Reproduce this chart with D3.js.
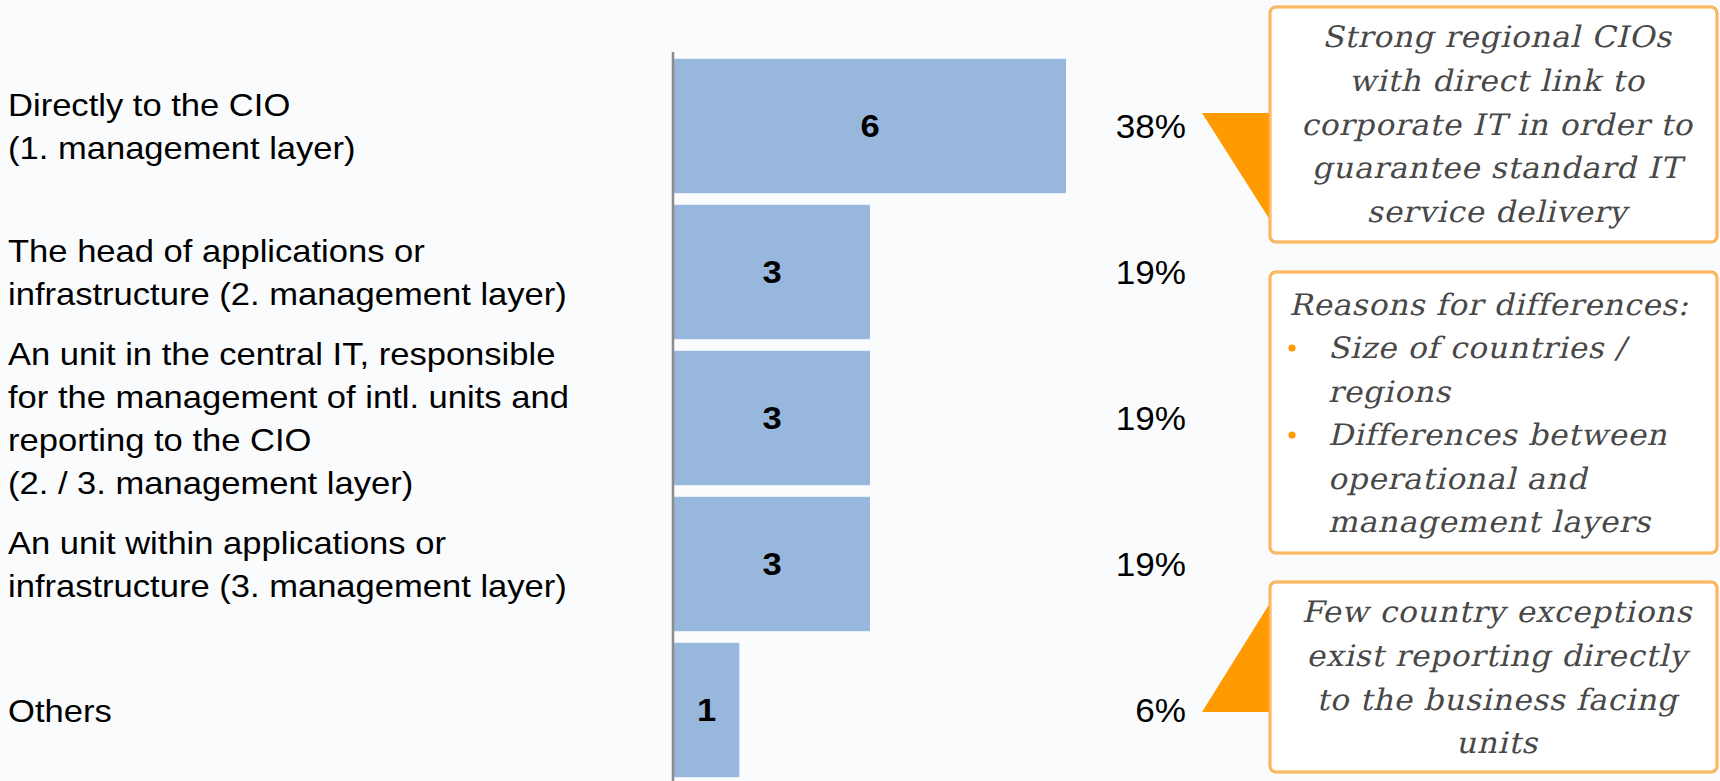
<!DOCTYPE html>
<html>
<head>
<meta charset="utf-8">
<script src="https://cdn.jsdelivr.net/npm/d3@7"></script>
<style>
  html, body { margin: 0; padding: 0; background: #FAFBFD; }
  svg { display: block; }
</style>
</head>
<body>
<svg id="chart" width="1720" height="781"></svg>
<script>
// Reporting line of regional IT units: number of answers per option
const categories = [
  "Directly to the CIO\n(1. management layer)",
  "The head of applications or\ninfrastructure (2. management layer)",
  "An unit in the central IT, responsible\nfor the management of intl. units and\nreporting to the CIO\n(2. / 3. management layer)",
  "An unit within applications or\ninfrastructure (3. management layer)",
  "Others"
];
const counts = [6, 3, 3, 3, 1];
const shares = [38, 19, 19, 19, 6];   // percent of all answers
const xDomain = [0, 6];

// Side notes
const noteTop = ["Strong regional CIOs", "with direct link to", "corporate IT in order to", "guarantee standard IT", "service delivery"];
const noteMidTitle = "Reasons for differences:";
const noteMidBullets = [["Size of countries /", "regions"], ["Differences between", "operational and", "management layers"]];
const noteBottom = ["Few country exceptions", "exist reporting directly", "to the business facing", "units"];

const W = 1720, H = 781;
const SANS = "'Liberation Sans', Arial, Helvetica, sans-serif";
const SERIF = "'DejaVu Serif', serif";
const SX = 1.08;          // horizontal stretch of the slide typography
const LINE = 43;          // label line spacing
const ORANGE = "#FF9A00";

const svg = d3.select("#chart");
svg.append("rect").attr("width", W).attr("height", H).attr("fill", "#FAFBFD");

const y = d3.scaleBand()
  .domain(d3.range(categories.length))
  .range([53, 783])
  .paddingInner(0.08)
  .paddingOuter(0.04);

const x = d3.scaleLinear().domain(xDomain).range([674, 1066]);

// text placed through a transform so it can be stretched horizontally
function sansText(g, tx, ty, str, size, anchor, weight) {
  return g.append("text")
    .attr("transform", `translate(${tx},${ty}) scale(${SX},1)`)
    .attr("text-anchor", anchor)
    .attr("font-family", SANS)
    .attr("font-size", size)
    .attr("font-weight", weight || "normal")
    .attr("fill", "#000")
    .text(str);
}
function noteText(g, tx, ty, str, anchor) {
  return g.append("text")
    .attr("transform", `translate(${tx},${ty}) skewX(-13) scale(1.06,1)`)
    .attr("text-anchor", anchor)
    .attr("font-family", SERIF)
    .attr("font-size", 29.5)
    .attr("letter-spacing", 0.6)
    .attr("fill", "#484848")
    .text(str);
}

// bars
const bars = svg.append("g");
bars.selectAll("rect")
  .data(counts)
  .join("rect")
  .attr("x", x(0))
  .attr("y", (d, i) => y(i))
  .attr("width", d => x(d) - x(0))
  .attr("height", y.bandwidth())
  .attr("fill", "#97B7DC");

// category axis: only the vertical baseline is shown
const axis = svg.append("g")
  .attr("transform", `translate(${x(0) - 1},0)`)
  .call(d3.axisLeft(y).tickSize(0).tickSizeOuter(0).tickFormat(""));
axis.select(".domain").attr("stroke", "#8C8C8C").attr("stroke-width", 2.5);
axis.selectAll(".tick").remove();
axis.select(".domain").attr("d", `M0,52V${H}`);

// category labels
const labels = svg.append("g");
categories.forEach((c, i) => {
  const lines = c.split("\n");
  const cy = y(i) + y.bandwidth() / 2;
  const first = cy - (lines.length - 1) / 2 * LINE + 11.5;
  lines.forEach((ln, k) => sansText(labels, 8, first + k * LINE, ln, 32, "start"));
});

// value labels inside bars
const values = svg.append("g");
counts.forEach((v, i) => {
  const cy = y(i) + y.bandwidth() / 2;
  sansText(values, (x(0) + x(v)) / 2, cy + 11, String(v), 32, "middle", "bold");
});

// share labels
const pct = svg.append("g");
shares.forEach((s, i) => {
  const cy = y(i) + y.bandwidth() / 2;
  sansText(pct, 1186, cy + 11.5, s + "%", 32.5, "end");
});

// callout pointers
const notes = svg.append("g");
const boxL = 1270, boxR = 1717;
notes.append("path")
  .attr("d", `M1202,113L${boxL},113L${boxL},220Z`)
  .attr("fill", ORANGE);
notes.append("path")
  .attr("d", `M1202,712L${boxL},712L${boxL},603Z`)
  .attr("fill", ORANGE);

// callout boxes
function box(top, bottom) {
  notes.append("rect")
    .attr("x", boxL).attr("y", top)
    .attr("width", boxR - boxL).attr("height", bottom - top)
    .attr("rx", 6)
    .attr("fill", "#FFFFFF")
    .attr("stroke", "#FBA53A").attr("stroke-width", 3);
  notes.append("rect")
    .attr("x", boxL).attr("y", top)
    .attr("width", boxR - boxL).attr("height", bottom - top)
    .attr("rx", 6)
    .attr("fill", "none")
    .attr("stroke", "#FDD7A4").attr("stroke-width", 0.8);
}
box(7, 242);
box(272, 553);
box(582, 772);

const cxNote = 1497;
noteTop.forEach((ln, k) => noteText(notes, cxNote, 47 + k * 43.8, ln, "middle"));

noteText(notes, 1289, 315, noteMidTitle, "start");
let base = 358;
noteMidBullets.forEach(item => {
  notes.append("circle").attr("cx", 1292).attr("cy", base - 10).attr("r", 3.6).attr("fill", ORANGE);
  item.forEach(ln => { noteText(notes, 1328, base, ln, "start"); base += 43.5; });
});

noteBottom.forEach((ln, k) => noteText(notes, cxNote, 622 + k * 43.8, ln, "middle"));
</script>
</body>
</html>
